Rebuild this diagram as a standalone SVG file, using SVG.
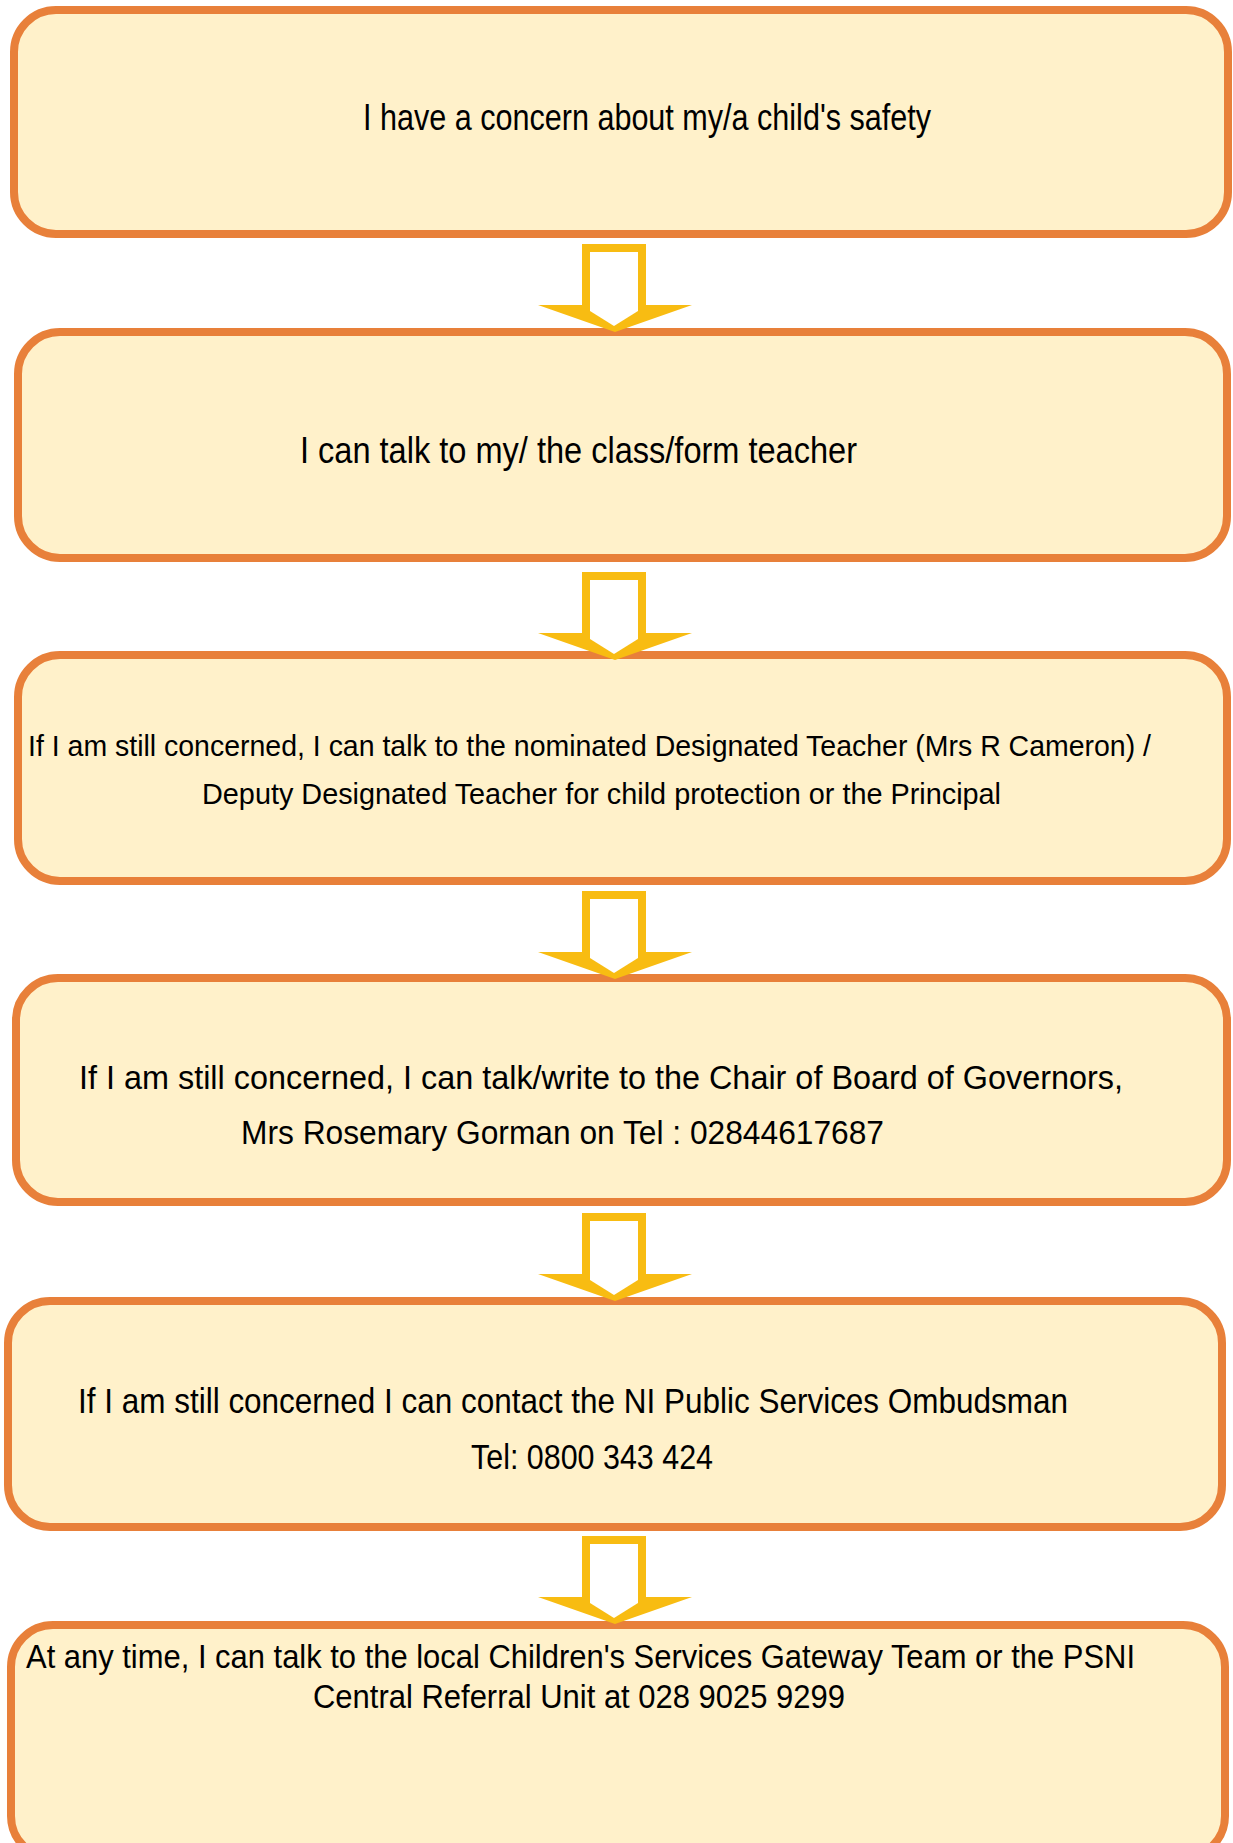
<svg xmlns="http://www.w3.org/2000/svg" xmlns:xlink="http://www.w3.org/1999/xlink" width="1233" height="1843" viewBox="0 0 1233 1843">
  <style>
    .box { fill: #FFF1CA; stroke: #E8803A; stroke-width: 8; }
    .label { font-family: "Liberation Sans", Arial, sans-serif; fill: #000000; }
    .arrow-outer { fill: #F8BC12; }
    .arrow-inner { fill: #FFFFFF; }
  </style>
  <defs>
    <!-- hollow block arrow pointing down, origin at the top of the shaft -->
    <g id="down-arrow">
      <path class="arrow-outer" d="M582,0 H646 V61 H692 L615,88 L538,61 H582 Z"/>
      <path class="arrow-inner" d="M590,8 H638 V67 L614,82 L590,67 Z"/>
    </g>
  </defs>

  <rect width="1233" height="1843" fill="#FFFFFF"/>

  <g id="step-concern">
    <rect class="box" x="14" y="10" width="1214" height="224" rx="42" ry="42"/>
    <text class="label" x="363" y="130" font-size="37" textLength="568" lengthAdjust="spacingAndGlyphs">I have a concern about my/a child's safety</text>
  </g>

  <g id="step-teacher">
    <rect class="box" x="18" y="332" width="1209" height="226" rx="42" ry="42"/>
    <text class="label" x="300" y="463" font-size="37" textLength="557" lengthAdjust="spacingAndGlyphs">I can talk to my/ the class/form teacher</text>
  </g>

  <g id="step-designated">
    <rect class="box" x="18" y="655" width="1209" height="226" rx="42" ry="42"/>
    <text class="label" x="28" y="756" font-size="29" textLength="1123" lengthAdjust="spacingAndGlyphs">If I am still concerned, I can talk to the nominated Designated Teacher (Mrs R Cameron) /</text>
    <text class="label" x="202" y="804" font-size="29" textLength="799" lengthAdjust="spacingAndGlyphs">Deputy Designated Teacher for child protection or the Principal</text>
  </g>

  <g id="step-governors">
    <rect class="box" x="16" y="978" width="1211" height="224" rx="42" ry="42"/>
    <text class="label" x="79" y="1089" font-size="34" textLength="1044" lengthAdjust="spacingAndGlyphs">If I am still concerned, I can talk/write to the Chair of Board of Governors,</text>
    <text class="label" x="241" y="1144" font-size="34" textLength="643" lengthAdjust="spacingAndGlyphs">Mrs Rosemary Gorman on Tel : 02844617687</text>
  </g>

  <g id="step-ombudsman">
    <rect class="box" x="8" y="1301" width="1214" height="226" rx="42" ry="42"/>
    <text class="label" x="78" y="1413" font-size="35" textLength="990" lengthAdjust="spacingAndGlyphs">If I am still concerned I can contact the NI Public Services Ombudsman</text>
    <text class="label" x="471" y="1469" font-size="35" textLength="242" lengthAdjust="spacingAndGlyphs">Tel: 0800 343 424</text>
  </g>

  <g id="step-gateway">
    <rect class="box" x="11" y="1625" width="1214" height="233" rx="42" ry="42"/>
    <text class="label" x="26" y="1668" font-size="33" textLength="1109" lengthAdjust="spacingAndGlyphs">At any time, I can talk to the local Children's Services Gateway Team or the PSNI</text>
    <text class="label" x="313" y="1708" font-size="33" textLength="532" lengthAdjust="spacingAndGlyphs">Central Referral Unit at 028 9025 9299</text>
  </g>

  <g id="connectors">
    <use xlink:href="#down-arrow" href="#down-arrow" transform="translate(0,244)"/>
    <use xlink:href="#down-arrow" href="#down-arrow" transform="translate(0,572)"/>
    <use xlink:href="#down-arrow" href="#down-arrow" transform="translate(0,891)"/>
    <use xlink:href="#down-arrow" href="#down-arrow" transform="translate(0,1213)"/>
    <use xlink:href="#down-arrow" href="#down-arrow" transform="translate(0,1536)"/>
  </g>
</svg>
